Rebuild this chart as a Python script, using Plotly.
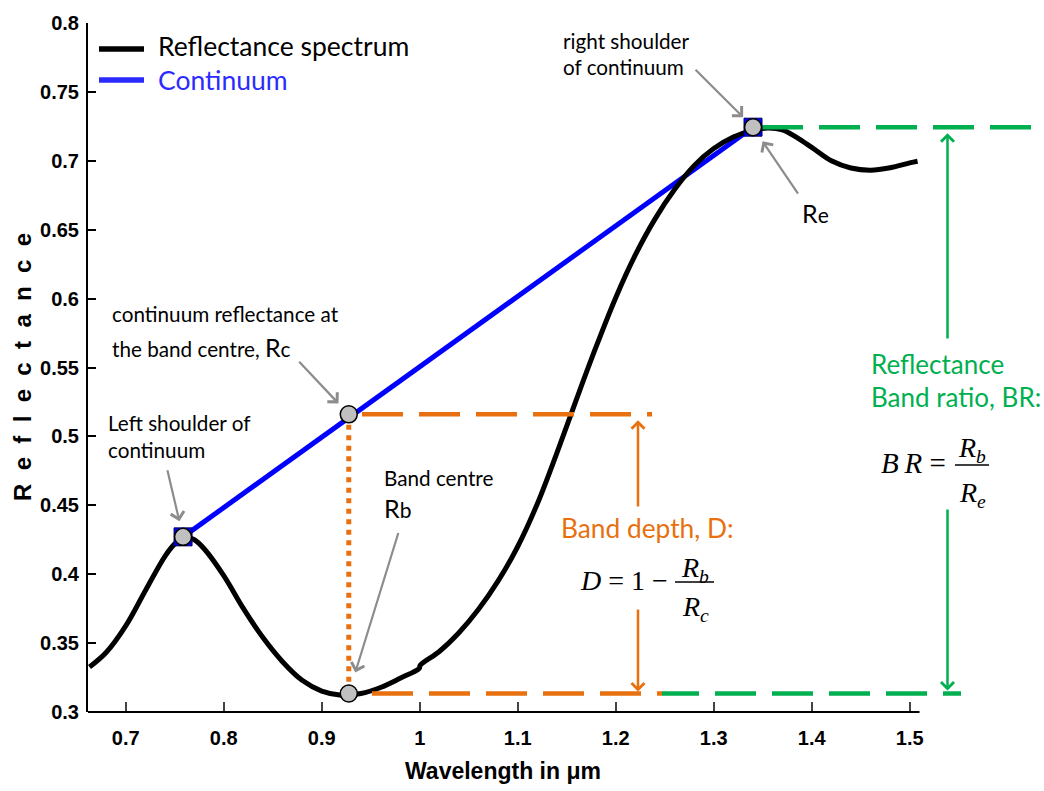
import plotly.graph_objects as go

# Reflectance spectrum (wavelength in µm, reflectance)
wavelength_um = [0.663, 0.680, 0.700, 0.720, 0.740, 0.750, 0.760, 0.770, 0.780, 0.800,
                 0.820, 0.840, 0.860, 0.880, 0.900, 0.920, 0.940, 0.960, 0.980, 0.9995,
                 1.0005, 1.020, 1.040, 1.060, 1.080, 1.100, 1.120, 1.140, 1.160, 1.180,
                 1.200, 1.220, 1.240, 1.260, 1.280, 1.300, 1.320, 1.340, 1.355, 1.370,
                 1.385, 1.400, 1.420, 1.440, 1.460, 1.480, 1.500, 1.508]
reflectance = [0.3327, 0.3432, 0.3625, 0.3880, 0.4130, 0.4220, 0.4272, 0.4250, 0.4185, 0.3990,
               0.3752, 0.3540, 0.3365, 0.3230, 0.3152, 0.3122, 0.3134, 0.3178, 0.3245, 0.3317,
               0.3339, 0.3439, 0.3575, 0.3745, 0.3951, 0.4201, 0.4511, 0.4881, 0.5271, 0.5651,
               0.6007, 0.6317, 0.6577, 0.6791, 0.6965, 0.7089, 0.7173, 0.7221, 0.7238, 0.7225,
               0.7168, 0.7097, 0.7000, 0.6948, 0.6932, 0.6950, 0.6985, 0.6997]

# Continuum end points (left and right shoulders)
shoulder_um = [0.7585, 1.3401]
shoulder_refl = [0.4271, 0.7244]

# Band centre and the reflectances used by the band parameters
band_centre_um = 0.9276
r_b = 0.3134            # spectrum at the band centre
r_c = 0.516             # continuum at the band centre
r_e = shoulder_refl[1]  # right shoulder

x_tick_vals = [0.7, 0.8, 0.9, 1.0, 1.1, 1.2, 1.3, 1.4, 1.5]
x_tick_text = ["0.7", "0.8", "0.9", "1", "1.1", "1.2", "1.3", "1.4", "1.5"]
y_tick_vals = [0.3, 0.35, 0.4, 0.45, 0.5, 0.55, 0.6, 0.65, 0.7, 0.75, 0.8]
y_tick_text = ["0.3", "0.35", "0.4", "0.45", "0.5", "0.55", "0.6", "0.65", "0.7", "0.75", "0.8"]

# ---- geometry -------------------------------------------------------------
W, H = 1044, 791
ML, MT, MB = 88, 23, 79
PW, PH = W - ML, H - MT - MB
PX_PER_UM = 980.0
X_MIN = 0.6615
X_MAX = X_MIN + PW / PX_PER_UM
AXIS_END_UM = 1.51


def um(px):
    """Horizontal pixel column -> wavelength."""
    return X_MIN + (px - ML) / PX_PER_UM


def refl(py):
    """Vertical pixel row -> reflectance."""
    return 0.3 + (MT + PH - py) / PH * 0.5


def xp(px):
    return (px - ML) / PW


def yp(py):
    return (MT + PH - py) / PH


BLUE = "#0000ff"
LEG_BLUE = "#2b2bff"
ORANGE = "#e8700f"
GREEN = "#00b050"
GREY = "#8c8c8c"
TEXT_FONT = "Lato, Carlito, Calibri, sans-serif"
AXIS_FONT = "Liberation Sans, Arial, sans-serif"
MATH_FONT = "Liberation Serif, Times New Roman, serif"

fig = go.Figure()

# continuum and spectrum
fig.add_trace(go.Scatter(x=shoulder_um, y=shoulder_refl, mode="lines",
                         line=dict(color=BLUE, width=5)))
fig.add_trace(go.Scatter(x=wavelength_um, y=reflectance, mode="lines",
                         line=dict(color="black", width=5, shape="spline", smoothing=1.0)))

# band-depth construction (orange)
fig.add_trace(go.Scatter(x=[um(362), um(652)], y=[r_c, r_c], mode="lines",
                         line=dict(color=ORANGE, width=4.5, dash="41px,16px")))
fig.add_trace(go.Scatter(x=[band_centre_um, band_centre_um], y=[r_c, r_b], mode="lines",
                         line=dict(color=ORANGE, width=5, dash="5px,5.5px")))
fig.add_trace(go.Scatter(x=[um(372), um(662)], y=[r_b, r_b], mode="lines",
                         line=dict(color=ORANGE, width=4.5, dash="41px,16px")))

# band-ratio construction (green)
fig.add_trace(go.Scatter(x=[um(662), um(961)], y=[r_b, r_b], mode="lines",
                         line=dict(color=GREEN, width=4.5,
                                   dash="37px,16px,41px,16px,41px,16px,41px,16px,41px,16px,41px,16px")))
fig.add_trace(go.Scatter(x=[um(762), um(1033)], y=[r_e, r_e], mode="lines",
                         line=dict(color=GREEN, width=4.5, dash="41px,16px")))

# continuum end markers and the key points
fig.add_trace(go.Scatter(x=shoulder_um, y=shoulder_refl, mode="markers",
                         marker=dict(symbol="square", size=18, color=BLUE,
                                     line=dict(color="#000060", width=1))))
fig.add_trace(go.Scatter(x=[shoulder_um[0], band_centre_um, band_centre_um, shoulder_um[1]],
                         y=[shoulder_refl[0], r_c, r_b, shoulder_refl[1]], mode="markers",
                         marker=dict(symbol="circle", size=17, color="#c0c0c0",
                                     line=dict(color="black", width=1.5))))

annotations = []


def text(s, px, py, size=20.7, color="black", family=TEXT_FONT, anchor="left"):
    annotations.append(dict(text=s, x=xp(px), y=yp(py), xref="paper", yref="paper",
                            xanchor=anchor, yanchor="middle", showarrow=False,
                            font=dict(family=family, size=size, color=color)))


def arrow(x, y, ax, ay, color, standoff, width=2.5, size=1.0, data_tail=False):
    a = dict(text="", x=x, y=y, xref="x", yref="y", ax=ax, ay=ay,
             showarrow=True, arrowhead=4, arrowsize=size, arrowwidth=width,
             arrowcolor=color, standoff=standoff)
    if data_tail:
        a.update(axref="x", ayref="y")
    annotations.append(a)


# labels
text("right shoulder", 561, 41)
text("of continuum", 561, 67)
text("R<span style='font-size:21px'>e</span>", 800, 213, size=25)
text("continuum reflectance at", 110, 314)
text("the band centre, <span style='font-size:25px'>R</span><span style='font-size:21px'>c</span>", 110, 347)
text("Left shoulder of", 106, 423)
text("continuum", 106, 450)
text("Band centre", 382, 478)
text("R<span style='font-size:21px'>b</span>", 382, 508, size=25)
text("Band depth, D:", 559, 528, size=26.3, color=ORANGE)
text("Reflectance", 869, 364, size=26, color=GREEN)
text("Band ratio, BR:", 869, 397, size=26, color=GREEN)

# formulas
text("<i>D</i> = 1 \u2212", 578, 580, size=28, family=MATH_FONT)
text("<i>R<sub>b</sub></i>", 695, 569, size=28, family=MATH_FONT, anchor="center")
text("<i>R<sub>c</sub></i>", 695, 608, size=28, family=MATH_FONT, anchor="center")
text("<i>B\u2009R</i> =", 879, 463, size=29, family=MATH_FONT)
text("<i>R<sub>b</sub></i>", 972, 450, size=28, family=MATH_FONT, anchor="center")
text("<i>R<sub>e</sub></i>", 972, 494, size=28, family=MATH_FONT, anchor="center")

# legend text
text("Reflectance spectrum", 156, 46, size=26.5)
text("Continuum", 156, 80, size=26.5, color=LEG_BLUE)

# axis titles
annotations.append(dict(text="Wavelength in \u03bcm", x=xp(503), y=yp(771), xref="paper", yref="paper",
                        xanchor="center", yanchor="middle", showarrow=False,
                        font=dict(family=AXIS_FONT, size=23, color="black", weight="bold")))
annotations.append(dict(text="\u00a0\u00a0".join("Reflectance"), x=xp(22), y=yp(367),
                        xref="paper", yref="paper", xanchor="center", yanchor="middle",
                        textangle=-90, showarrow=False,
                        font=dict(family=AXIS_FONT, size=24, color="black", weight="bold")))

# pointer arrows (grey)
arrow(shoulder_um[1], shoulder_refl[1], -59, -59, GREY, 14, width=2.2, size=1.2)
arrow(shoulder_um[1], shoulder_refl[1], 46, 68, GREY, 17, width=2.2, size=1.2)
arrow(band_centre_um, r_c, -51, -54, GREY, 15, width=2.2, size=1.2)
arrow(shoulder_um[0], shoulder_refl[0], -16, -68, GREY, 16, width=2.2, size=1.2)
arrow(band_centre_um, r_b, 50, -162, GREY, 22, width=2.2, size=1.2)

# band depth and band ratio span arrows
x_d = um(638)
x_br = um(947.5)
arrow(x_d, r_c, x_d, refl(508), ORANGE, 6, data_tail=True)
arrow(x_d, r_b, x_d, refl(608), ORANGE, 2, data_tail=True)
arrow(x_br, r_e, x_br, refl(340), GREEN, 6, data_tail=True)
arrow(x_br, r_b, x_br, refl(508), GREEN, 3, data_tail=True)

shapes = [
    # x axis line stops at the end of the wavelength range
    dict(type="line", xref="paper", yref="paper", x0=0, x1=(AXIS_END_UM - X_MIN) / (X_MAX - X_MIN),
         y0=0, y1=0, line=dict(color="black", width=2)),
    # legend samples
    dict(type="line", xref="paper", yref="paper", x0=xp(99), x1=xp(144), y0=yp(49), y1=yp(49),
         line=dict(color="black", width=5.5)),
    dict(type="line", xref="paper", yref="paper", x0=xp(99), x1=xp(144), y0=yp(80), y1=yp(80),
         line=dict(color=LEG_BLUE, width=5.5)),
    # fraction bars
    dict(type="line", xref="paper", yref="paper", x0=xp(675), x1=xp(714), y0=yp(582), y1=yp(582),
         line=dict(color="black", width=1.5)),
    dict(type="line", xref="paper", yref="paper", x0=xp(955), x1=xp(989), y0=yp(465), y1=yp(465),
         line=dict(color="black", width=1.5)),
]

fig.update_layout(
    width=W, height=H,
    margin=dict(l=ML, r=0, t=MT, b=MB, pad=0),
    paper_bgcolor="white", plot_bgcolor="white",
    showlegend=False,
    annotations=annotations,
    shapes=shapes,
    xaxis=dict(range=[X_MIN, X_MAX], tickvals=x_tick_vals, ticktext=x_tick_text,
               ticks="inside", ticklen=10, tickwidth=1.5, tickcolor="#444",
               showline=False, showgrid=False, zeroline=False,
               ticklabelstandoff=12,
               tickfont=dict(family=AXIS_FONT, size=20, color="black", weight="bold")),
    yaxis=dict(range=[0.3, 0.8], tickvals=y_tick_vals, ticktext=y_tick_text,
               ticks="inside", ticklen=8, tickwidth=1.5, tickcolor="black",
               showline=True, linewidth=2, linecolor="black",
               showgrid=False, zeroline=False, ticklabelstandoff=3,
               tickfont=dict(family=AXIS_FONT, size=20, color="black", weight="bold")),
)

fig.write_html("out.html")
